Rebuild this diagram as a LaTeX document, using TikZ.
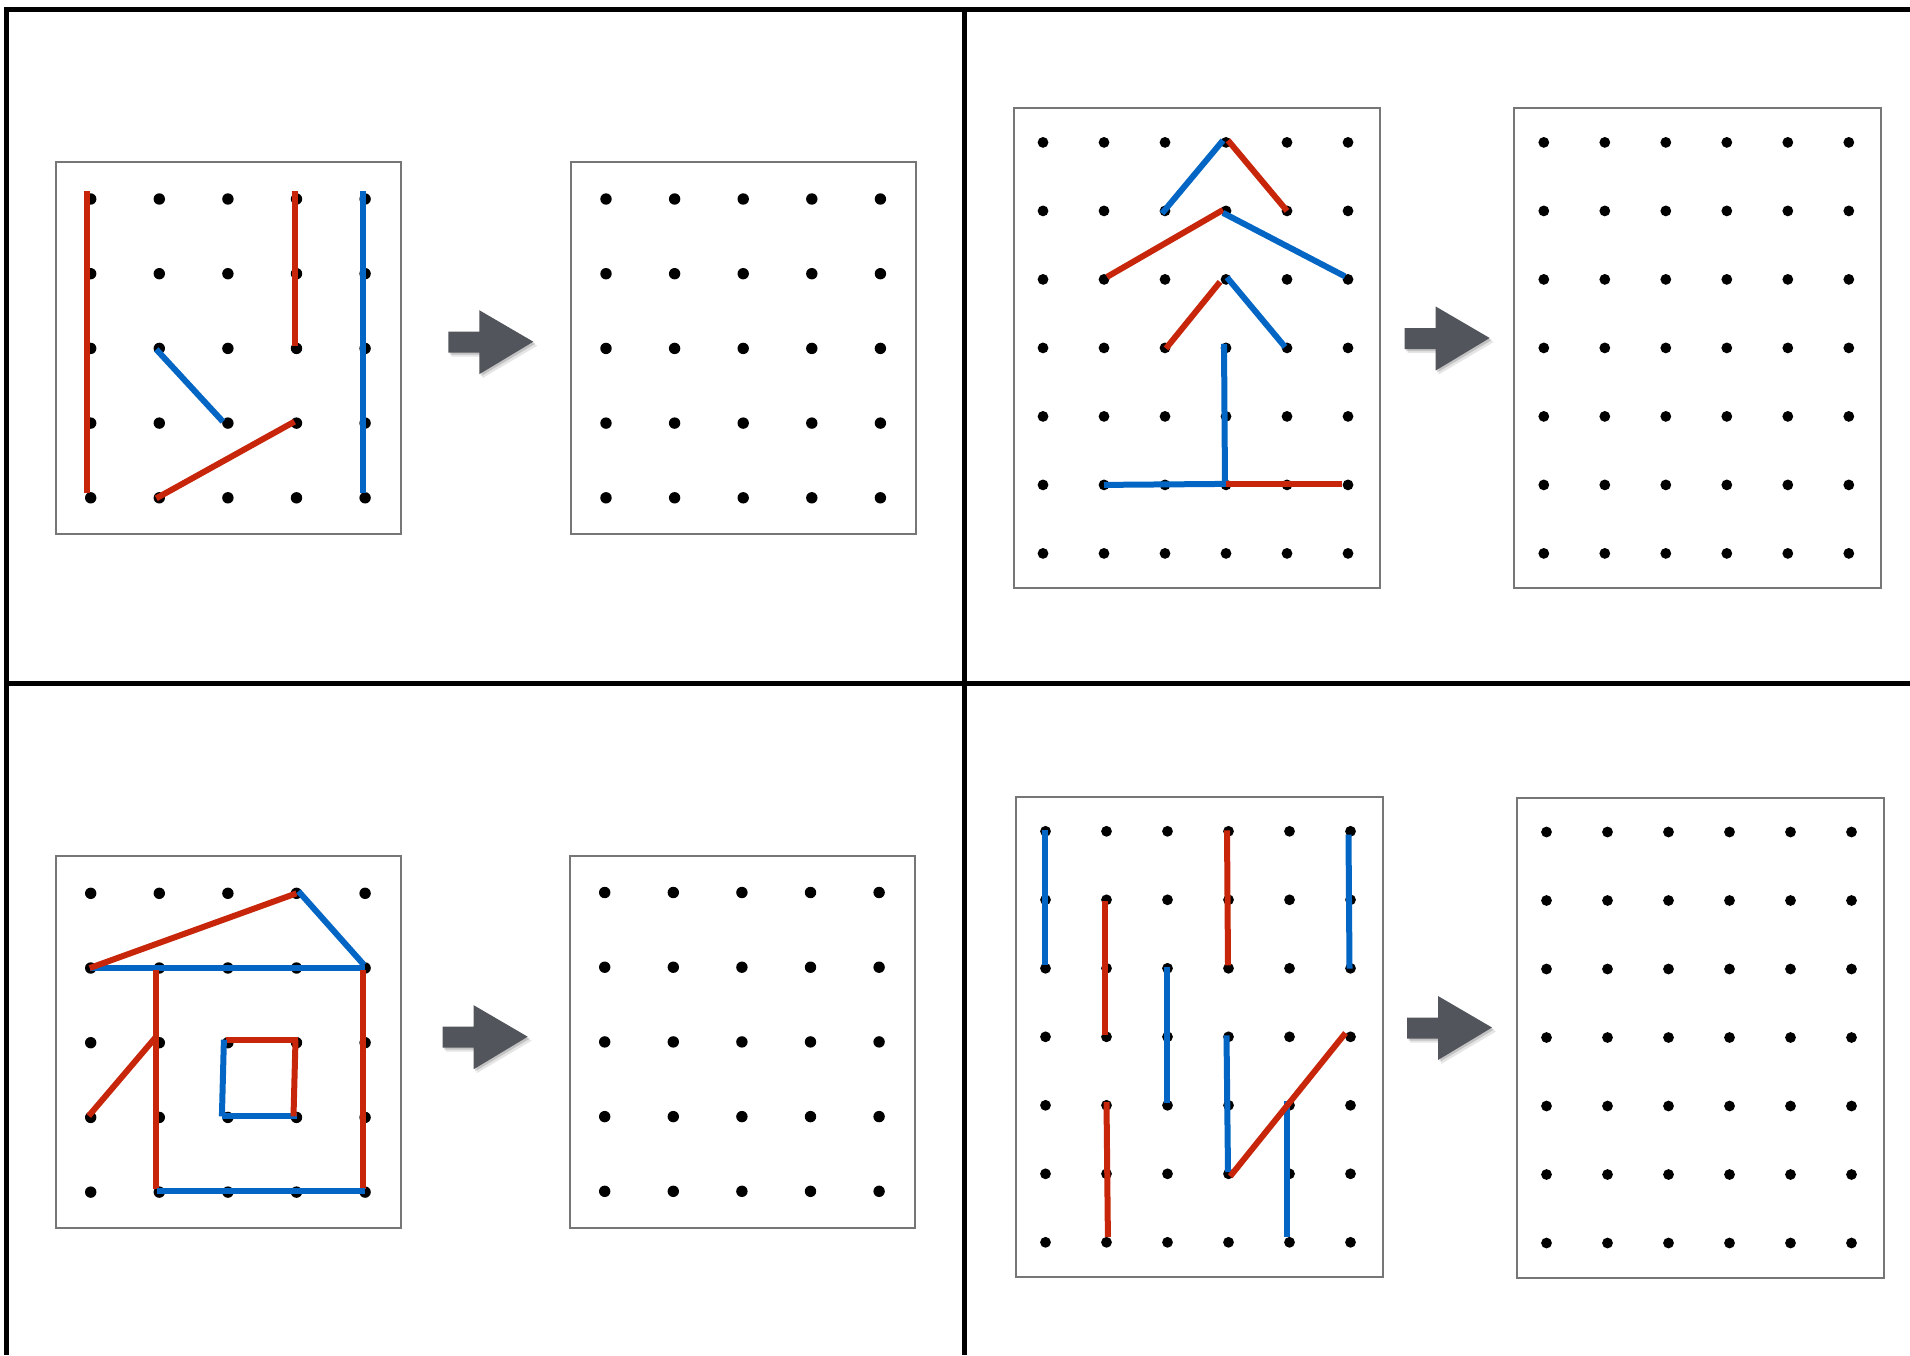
\documentclass[tikz,border=0pt]{standalone}
\usetikzlibrary{calc}
\definecolor{bandred}{HTML}{C8260A}
\definecolor{bandblue}{HTML}{0366C4}
\definecolor{arrowgray}{HTML}{52565C}
\definecolor{boxgray}{HTML}{767676}
\tikzset{
  frameline/.style={line width=5pt, black},
  boardframe/.style={line width=2pt, draw=boxgray},
  band/.style={line width=6pt, line cap=butt},
  peg/.style={fill=black},
}
% 5x5 board: name, left, top
\newcommand\boardA[3]{%
  \draw[boardframe] (#2,#3) rectangle ++(345,372);
  \foreach \c in {0,...,4}{\foreach \r in {0,...,4}{
    \coordinate (#1-\c-\r) at ({#2+34.7+68.6*\c},{#3+37+74.7*\r});
    \fill[peg] (#1-\c-\r) circle[radius=5.7pt];}}%
}
% 6x7 board: name, left, top
\newcommand\boardB[3]{%
  \draw[boardframe] (#2,#3) rectangle ++(366.5,480);
  \foreach \c in {0,...,5}{\foreach \r in {0,...,6}{
    \coordinate (#1-\c-\r) at ({#2+29.5+61*\c},{#3+34+68.5*\r});
    \fill[peg] (#1-\c-\r) circle[radius=5.4pt];}}%
}
\newcommand\rb[4]{\draw[band,draw=bandred] ([shift={#2}]#1) -- ([shift={#4}]#3);}
\newcommand\bb[4]{\draw[band,draw=bandblue] ([shift={#2}]#1) -- ([shift={#4}]#3);}
\newcommand\grayarrow[1]{%
  \begin{scope}[shift={(#1)}]
    \fill[black,opacity=.10] (-82,-7) -- (-51,-7) -- (-51,-28.5) -- (4,4) -- (-51,36.5) -- (-51,15) -- (-82,15) -- cycle;
    \fill[black,opacity=.15] (-83.5,-8.5) -- (-52.5,-8.5) -- (-52.5,-30) -- (2,2) -- (-52.5,34.5) -- (-52.5,13) -- (-83.5,13) -- cycle;
    \fill[arrowgray] (-85,-10) -- (-54,-10) -- (-54,-31.5) -- (0,0) -- (-54,32.5) -- (-54,11) -- (-85,11) -- cycle;
  \end{scope}}
\begin{document}
\begin{tikzpicture}[x=1pt,y=-1pt]
\useasboundingbox (0,0) rectangle (1910,1355);
\fill[white] (0,0) rectangle (1910,1355);

% outer frame
\coordinate (tl) at (4,9.5);  \coordinate (tr) at (1910,9.5);
\coordinate (lt) at (6.5,7);  \coordinate (lb) at (6.5,1355);
\coordinate (mt) at (964.5,7); \coordinate (mb) at (964.5,1355);
\coordinate (ml) at (4,683.5); \coordinate (mr) at (1910,683.5);
\draw[frameline] (tl) -- (tr);
\draw[frameline] (lt) -- (lb);
\draw[frameline] (mt) -- (mb);
\draw[frameline] (ml) -- (mr);

% boards
\boardA{b1}{56}{162}
\boardA{b2}{571.3}{162}
\boardA{b5}{56}{856.3}
\boardA{b6}{570}{855.5}
\boardB{b3}{1013.5}{108.4}
\boardB{b4}{1514.3}{108.4}
\boardB{b7}{1016}{797.3}
\boardB{b8}{1517}{798}

% arrows
\coordinate (A1) at (533.3,341.7);
\coordinate (A2) at (1489.7,338);
\coordinate (A3) at (527.7,1036.7);
\coordinate (A4) at (1492,1027.5);
\grayarrow{A1}
\grayarrow{A2}
\grayarrow{A3}
\grayarrow{A4}

% board 1 bands
\rb{b1-0-0}{(-4,-8)}{b1-0-4}{(-4,-4.5)}
\rb{b1-3-0}{(-2,-8)}{b1-3-2}{(-2,-2)}
\bb{b1-4-0}{(-2,-8)}{b1-4-4}{(-2,-4.5)}
\bb{b1-1-2}{(-3,1)}{b1-2-3}{(-5,-1.5)}
\rb{b1-1-4}{(-3,0.5)}{b1-3-3}{(-2,-1.5)}

% board 3 bands
\bb{b3-2-1}{(-3,2.5)}{b3-3-0}{(-3,-2)}
\rb{b3-3-0}{(2,-2)}{b3-4-1}{(0,0)}
\rb{b3-1-2}{(3,-2.5)}{b3-3-1}{(-3,-1)}
\bb{b3-3-1}{(-3,2)}{b3-5-2}{(-3,-3)}
\rb{b3-2-3}{(1,0.5)}{b3-3-2}{(-6,2.5)}
\bb{b3-3-2}{(1,-2)}{b3-4-3}{(-2,-1)}
\bb{b3-3-3}{(-2,-4)}{b3-3-5}{(-1,0)}
\bb{b3-1-5}{(0,0)}{b3-3-5}{(0,-1)}
\rb{b3-3-5}{(0,-1)}{b3-5-5}{(-6,-1)}

% board 5 bands
\bb{b5-0-1}{(-1,0)}{b5-4-1}{(0,0)}
\rb{b5-0-1}{(-1,0)}{b5-3-0}{(0,0)}
\bb{b5-3-0}{(2,-2)}{b5-4-1}{(-1,-3)}
\rb{b5-1-1}{(-3,2)}{b5-1-4}{(-3,-3)}
\rb{b5-4-1}{(-2,2)}{b5-4-4}{(-2,-3)}
\bb{b5-1-4}{(-2,-1)}{b5-4-4}{(0,-1)}
\rb{b5-0-3}{(-2,-1.5)}{b5-1-2}{(-4,-5)}
\rb{b5-2-2}{(-2,-2.5)}{b5-3-2}{(1,-2.5)}
\bb{b5-2-2}{(-4,-3)}{b5-2-3}{(-6,-1)}
\bb{b5-2-3}{(-6,-1)}{b5-3-3}{(0,-1)}
\rb{b5-3-2}{(-1,-2.5)}{b5-3-3}{(-3,-1)}

% board 7 bands
\bb{b7-0-0}{(-1,-1)}{b7-0-2}{(-1,-3)}
\rb{b7-1-1}{(-2,1)}{b7-1-3}{(-2,-1.5)}
\bb{b7-2-2}{(-0.5,-1.3)}{b7-2-4}{(-0.5,-2.3)}
\rb{b7-3-0}{(-1.5,-1)}{b7-3-2}{(-0.5,-3)}
\bb{b7-5-0}{(-2,3.4)}{b7-5-2}{(-1,0.4)}
\bb{b7-3-3}{(-2,-1.5)}{b7-3-5}{(-0.5,-1.8)}
\bb{b7-4-4}{(-2.3,-4)}{b7-4-6}{(-2.3,-5.3)}
\rb{b7-3-5}{(1.7,2.5)}{b7-5-3}{(-5,-3.8)}
\rb{b7-1-4}{(0,-3.3)}{b7-1-6}{(1.4,-5.3)}
\end{tikzpicture}
\end{document}
